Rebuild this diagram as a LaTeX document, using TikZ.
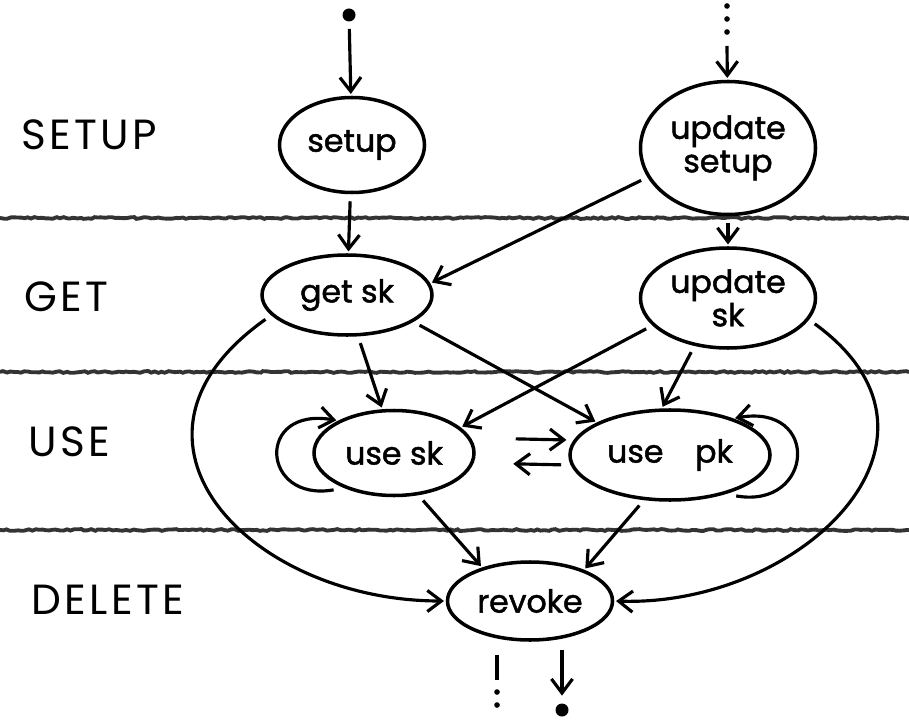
\documentclass[tikz,border=0pt]{standalone}
\usepackage{fontspec}
\setmainfont{Poppins}[FakeBold=1.5]
\newfontfamily\thinhand{Poppins}
\usetikzlibrary{shapes.geometric,arrows.meta,decorations.pathmorphing}
\tikzset{
  state/.style={draw, ellipse, line width=2pt, inner sep=0pt, align=center,
    font=\fontsize{18}{19}\selectfont},
  arr/.style={-{Straight Barb[length=8pt,width=12pt,line width=1.8pt]}, line width=1.8pt,
    shorten <=4pt, shorten >=1pt},
  dot/.style={circle, fill, inner sep=0pt, minimum size=2.6mm},
  dots/.style={line width=3.2pt, line cap=round, dash pattern=on 0pt off 2.6mm},
  lane/.style={line width=2.2pt, black!80, decorate,
    decoration={random steps, segment length=2pt, amplitude=.5pt}},
  phase/.style={anchor=west, font=\thinhand\fontsize{24}{26}\selectfont\addfontfeatures{LetterSpace=8}}
}
\begin{document}
\begin{tikzpicture}[x=.2mm, y=.2mm]
\useasboundingbox (0,0) rectangle (909,-720);
\draw[lane] (0,-218)--(909,-218);
\draw[lane] (0,-372)--(909,-372);
\draw[lane] (0,-530)--(909,-530);
\node[phase] (lsetup) at (15,-135) {SETUP};
\node[phase] (lget) at (18,-297) {GET};
\node[phase] (luse) at (22,-442) {USE};
\node[phase] (ldelete) at (25,-600) {DELETE};

\node[state, minimum width=29mm, minimum height=19mm] (setup) at (352,-145) {setup};
\node[state, minimum width=35mm, minimum height=26.6mm] (usetup) at (728,-148) {update\\setup};
\node[state, minimum width=34mm, minimum height=16mm] (getsk) at (347,-295) {get sk};
\node[state, minimum width=35mm, minimum height=20mm] (updsk) at (728,-298) {update\\sk};
\node[state, minimum width=32mm, minimum height=17mm] (usesk) at (394,-453) {use sk};
\node[state, minimum width=40mm, minimum height=18mm] (usepk) at (670,-455) {use\quad pk};
\node[state, minimum width=33mm, minimum height=15.6mm] (revoke) at (530,-601) {revoke};

\node[dot] (start) at (349,-15) {};
\draw[arr] (start)--(setup);
\draw[dots] (727,-6)--(727,-40);
\coordinate (again) at (727,-46);
\draw[arr, shorten <=0pt] (again)--(usetup);

\draw[arr] (setup)--(getsk);
\draw[arr] (usetup)--(updsk);
\draw[arr] (usetup.200)--(getsk.8);
\draw[arr] (getsk.285)--(usesk.105);
\draw[arr] (getsk.338)--(usepk.156);
\draw[arr] (updsk.200)--(usesk.21);
\draw[arr] (updsk.235)--(usepk.100);
\draw[arr, shorten <=8mm] ([yshift=3mm]usesk.east)--([yshift=3mm]usepk.west);
\draw[arr, shorten >=7.5mm] ([yshift=-2mm]usepk.west)--([yshift=-2mm]usesk.east);
\draw[arr, shorten <=6pt] (usesk.215) to[out=190, in=170, looseness=3.2] (usesk.150);
\draw[arr, shorten <=6pt] (usepk.-35) to[out=-10, in=10, looseness=3] (usepk.30);
\draw[arr] (getsk.195) .. controls (95,-440) and (250,-601) .. (revoke.west);
\draw[arr] (updsk.-15) .. controls (975,-440) and (800,-607) .. (revoke.east);
\draw[arr] (usesk.300)--(revoke.145);
\draw[arr] (usepk.240)--(revoke.30);

\coordinate (outa) at (497,-655);
\coordinate (outb) at (497,-680);
\draw[line width=1.8pt] (outa)--(outb);
\draw[dots] (497,-692)--(497,-718);
\coordinate (outc) at (562,-650);
\node[dot] (stop) at (562,-710) {};
\draw[arr, shorten <=0pt, shorten >=1.5mm] (outc)--(stop);
\end{tikzpicture}
\end{document}
